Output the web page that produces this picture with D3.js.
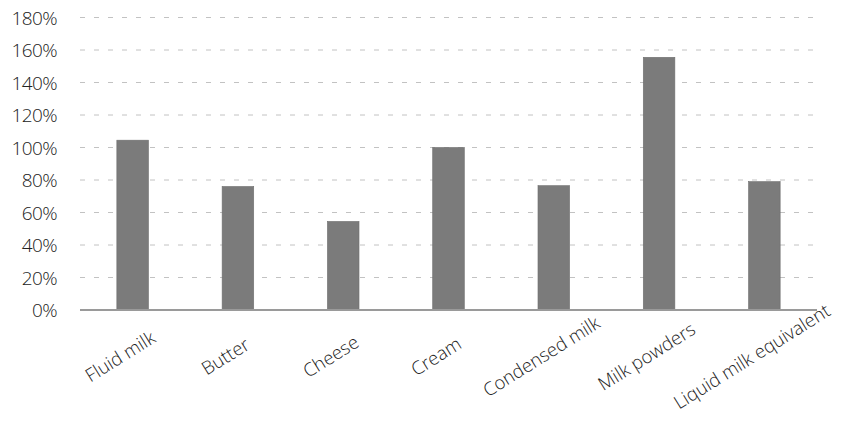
<!DOCTYPE html>
<html>
<head>
<meta charset="utf-8">
<script src="https://cdn.jsdelivr.net/npm/d3@7"></script>
<style>
  html, body { margin: 0; padding: 0; background: #fff; }
  svg text { font-family: "Open Sans", "Helvetica Neue", Arial, sans-serif; font-weight: 300; fill: #222; }
</style>
</head>
<body>
<svg id="chart" width="842" height="425"></svg>
<script>
// Dairy products: ratio shown as a percentage
const categories = ["Fluid milk", "Butter", "Cheese", "Cream", "Condensed milk", "Milk powders", "Liquid milk equivalent"];
const values = [104.5, 76, 54.5, 100, 76.5, 155.5, 79];
const yTicks = [0, 20, 40, 60, 80, 100, 120, 140, 160, 180];

const svg = d3.select("#chart");
const margin = { left: 80, right: 25, top: 17.5, bottom: 115 };
const width = 842, height = 425;

const x = d3.scaleBand()
  .domain(categories)
  .range([margin.left, width - margin.right])
  .paddingInner(0.7)
  .paddingOuter(0.35);

const y = d3.scaleLinear()
  .domain([0, 180])
  .range([height - margin.bottom, margin.top]);

// Dashed horizontal gridlines (excluding the baseline)
svg.append("g")
  .selectAll("line")
  .data(yTicks.filter(d => d > 0))
  .join("line")
  .attr("x1", margin.left)
  .attr("x2", width - margin.right)
  .attr("y1", d => y(d))
  .attr("y2", d => y(d))
  .attr("stroke", "#c2c2c2")
  .attr("stroke-width", 1)
  .attr("stroke-dasharray", "5,9");

// Y axis labels
const yAxis = d3.axisLeft(y)
  .tickValues(yTicks)
  .tickFormat(d => d + "%")
  .tickSize(0)
  .tickPadding(0);

const yg = svg.append("g")
  .attr("transform", `translate(${margin.left - 23},0)`)
  .call(yAxis);
yg.select(".domain").remove();
yg.selectAll("text")
  .attr("font-size", 19)
  .attr("letter-spacing", -0.6)
  .attr("dy", "0.35em");

// Bars
svg.append("g")
  .selectAll("rect")
  .data(categories.map((c, i) => ({ c, v: values[i] })))
  .join("rect")
  .attr("x", d => x(d.c))
  .attr("width", x.bandwidth())
  .attr("y", d => y(d.v))
  .attr("height", d => y(0) - y(d.v))
  .attr("fill", "#7b7b7b")
  .attr("stroke", "#6e6e6e")
  .attr("stroke-width", 0.6);

// Baseline
svg.append("line")
  .attr("x1", margin.left)
  .attr("x2", width - margin.right)
  .attr("y1", y(0))
  .attr("y2", y(0))
  .attr("stroke", "#9a9a9a")
  .attr("stroke-width", 2);

// X axis category labels, rotated
const xAxis = d3.axisBottom(x).tickSize(0).tickPadding(0);
const xg = svg.append("g")
  .attr("transform", `translate(0,${y(0)})`)
  .call(xAxis);
xg.select(".domain").remove();
xg.selectAll("text")
  .attr("font-size", 18.5)
  .attr("text-anchor", "middle")
  .attr("dy", 0)
  .attr("y", 0)
  .attr("transform", "translate(-9,52) rotate(-32)");
</script>
</body>
</html>
